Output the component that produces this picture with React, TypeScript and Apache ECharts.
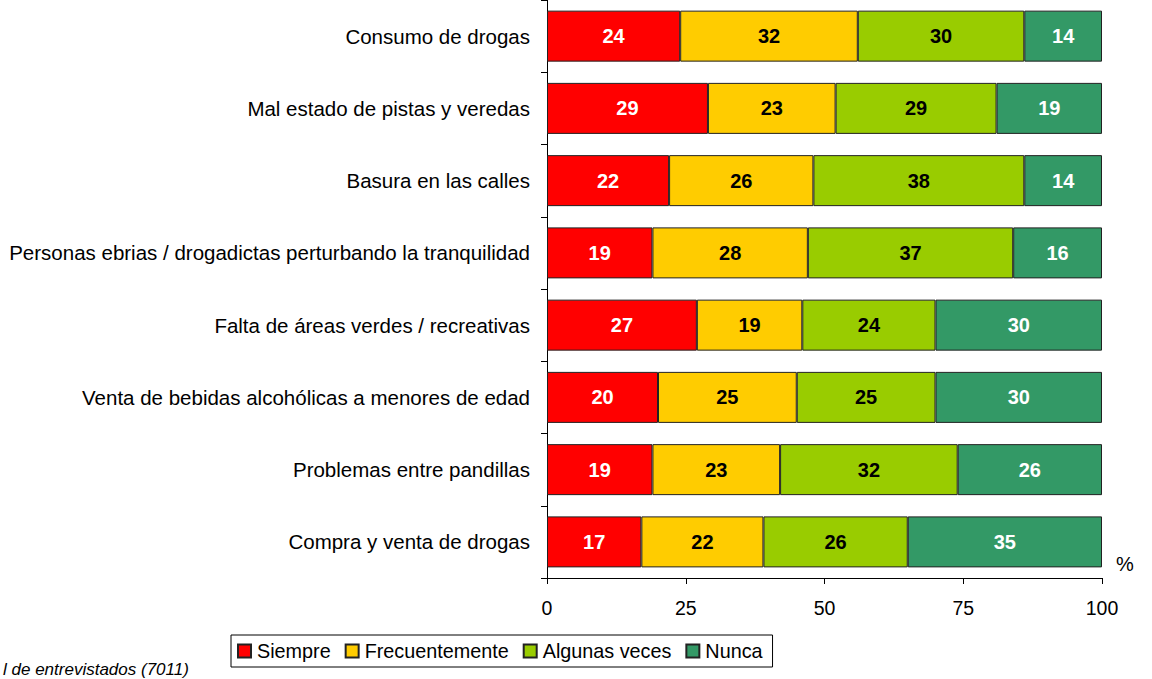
import React, { useEffect, useRef } from "react";
import * as echarts from "echarts";

const categories = [
  "Consumo de drogas",
  "Mal estado de pistas y veredas",
  "Basura en las calles",
  "Personas ebrias / drogadictas perturbando la tranquilidad",
  "Falta de áreas verdes / recreativas",
  "Venta de bebidas alcohólicas a menores de edad",
  "Problemas entre pandillas",
  "Compra y venta de drogas",
];
const siempre = [24, 29, 22, 19, 27, 20, 19, 17];
const frecuentemente = [32, 23, 26, 28, 19, 25, 23, 22];
const algunasVeces = [30, 29, 38, 37, 24, 25, 32, 26];
const nunca = [14, 19, 14, 16, 30, 30, 26, 35];
const xTicks = [0, 25, 50, 75, 100];
const footnote = "l de entrevistados (7011)";

const FONT = "Arial, 'Liberation Sans', sans-serif";

export default function App() {
  const ref = useRef<HTMLDivElement>(null);
  useEffect(() => {
    if (!ref.current) return;
    const chart = echarts.init(ref.current, null, { renderer: "svg" });
    const mk = (name: string, data: number[], color: string, labelColor: string) => ({
      name,
      type: "bar",
      stack: "total",
      data,
      barWidth: 51,
      itemStyle: { color, borderColor: "#222", borderWidth: 1 },
      label: {
        show: true,
        position: "inside",
        color: labelColor,
        fontWeight: "bold",
        fontSize: 20,
        fontFamily: FONT,
      },
    });
    chart.setOption({
      animation: false,
      textStyle: { fontFamily: FONT },
      grid: { left: 547, right: 50, top: -2, bottom: 101, containLabel: false },
      xAxis: {
        type: "value",
        min: 0,
        max: 100,
        interval: 25,
        axisLine: { show: true, lineStyle: { color: "#000", width: 1 } },
        axisTick: { show: true, length: 6, lineStyle: { color: "#000" } },
        splitLine: { show: false },
        axisLabel: {
          color: "#000",
          fontSize: 19.5,
          fontFamily: FONT,
          margin: 20,
          formatter: (v: number) => (xTicks.includes(v) ? String(v) : ""),
        },
      },
      yAxis: {
        type: "category",
        inverse: true,
        data: categories,
        axisLine: { show: true, lineStyle: { color: "#000", width: 1 } },
        axisTick: { show: true, length: 6, lineStyle: { color: "#000" } },
        axisLabel: { color: "#000", fontSize: 20.5, fontFamily: FONT, margin: 17 },
      },
      legend: {
        left: 231,
        top: 635,
        orient: "horizontal",
        icon: "rect",
        itemWidth: 13,
        itemHeight: 13,
        itemGap: 14,
        padding: [6, 10, 6, 6],
        borderColor: "#000",
        borderWidth: 1,
        backgroundColor: "#fff",
        textStyle: { color: "#000", fontSize: 19.8, fontFamily: FONT, padding: [0, 0, 0, 1] },
        data: ["Siempre", "Frecuentemente", "Algunas veces", "Nunca"],
      },
      graphic: [
        {
          type: "text",
          left: 1116,
          top: 554,
          style: { text: "%", fontSize: 20, fontFamily: FONT, fill: "#000" },
        },
        {
          type: "text",
          x: 3,
          y: 669,
          style: {
            text: footnote,
            fontSize: 17,
            fontStyle: "italic",
            fontFamily: FONT,
            fill: "#000",
            align: "left",
            verticalAlign: "middle",
          },
        },
      ],
      series: [
        mk("Siempre", siempre, "#FF0000", "#fff"),
        mk("Frecuentemente", frecuentemente, "#FFCC00", "#000"),
        mk("Algunas veces", algunasVeces, "#99CC00", "#000"),
        mk("Nunca", nunca, "#339966", "#fff"),
      ],
    });
    return () => chart.dispose();
  }, []);
  return <div ref={ref} style={{ width: 1152, height: 679, position: "absolute", left: 0, top: 0 }} />;
}
